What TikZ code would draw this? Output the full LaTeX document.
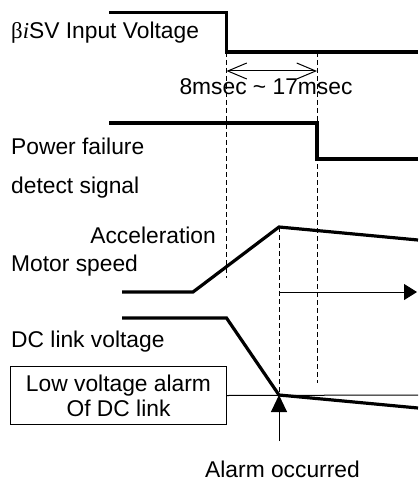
\documentclass[tikz,border=0pt]{standalone}
\usepackage{fontspec}
\setmainfont{Liberation Sans}
\newfontfamily\symfont{Liberation Serif}
\usetikzlibrary{arrows.meta}
\begin{document}
\begin{tikzpicture}[x=1pt,y=-1pt,
  lbl/.style={inner sep=0pt,anchor=base west,font=\fontsize{22.8}{27}\selectfont},
  ctr/.style={inner sep=0pt,anchor=base,font=\fontsize{22.8}{27}\selectfont},
  sig/.style={line width=3.2pt,line join=miter},
  guide/.style={line width=1pt,dash pattern=on 5pt off 3pt},
  thin/.style={line width=1pt}]
\useasboundingbox (0,0) rectangle (418,481);
% labels
\node[lbl] (tIn) at (11,39) {{\symfont β\textit{i}}SV Input Voltage};
\node[ctr] (tTime) at (266,95) {8msec \textasciitilde{} 17msec};
\node[lbl] (tPF1) at (11,154) {Power failure};
\node[lbl] (tPF2) at (11,193) {detect signal};
\node[lbl,anchor=base east] (tAcc) at (216,243) {Acceleration};
\node[lbl] (tMot) at (11,271) {Motor speed};
\node[lbl] (tDC) at (11,347) {DC link voltage};
\node[draw,thin,minimum width=216pt,minimum height=58pt,inner sep=0pt,anchor=north west,
  font=\fontsize{22.8}{25}\selectfont,align=center] (box) at (10,366) {Low voltage alarm\\Of DC link};
\node[ctr] (tAl) at (282.5,477) {Alarm occurred};
% key coordinates
\coordinate (a1) at (226.5,52);
\coordinate (b1) at (317,52);
\coordinate (a2) at (226.5,278);
\coordinate (b2) at (317,383);
\coordinate (pk) at (279,227);
\coordinate (al) at (279,395);
\coordinate (alb) at (279,441);
\coordinate (sp) at (279,292);
\coordinate (spe) at (417,292);
\coordinate (dl) at (226.5,71);
\coordinate (dr) at (317,71);
\coordinate (lr) at (418,395);
% signals
\draw[sig] (109,12.7) -- (226.5,12.7) -- (a1) -- (418,52);
\draw[sig] (109,123) -- (317,123) -- (317,159) -- (418,159);
\draw[sig] (122,292) -- (193,292) -- (pk) -- (418,240);
\draw[sig] (122,318) -- (226.5,318) -- (al) -- (418,408);
% guides
\draw[guide] (a1) -- (a2);
\draw[guide] (b1) -- (b2);
\draw[guide] (pk) -- (al);
\draw[thin,{Straight Barb[length=19pt,width=16pt]}-{Straight Barb[length=19pt,width=16pt]}] (dl) -- (dr);
\draw[thin,-{Triangle[length=13pt,width=16pt]}] (sp) -- (spe);
\draw[thin] (box.east) -- (lr);
\draw[thin,-{Triangle[length=17pt,width=16pt]}] (alb) -- (al);
\end{tikzpicture}
\end{document}
